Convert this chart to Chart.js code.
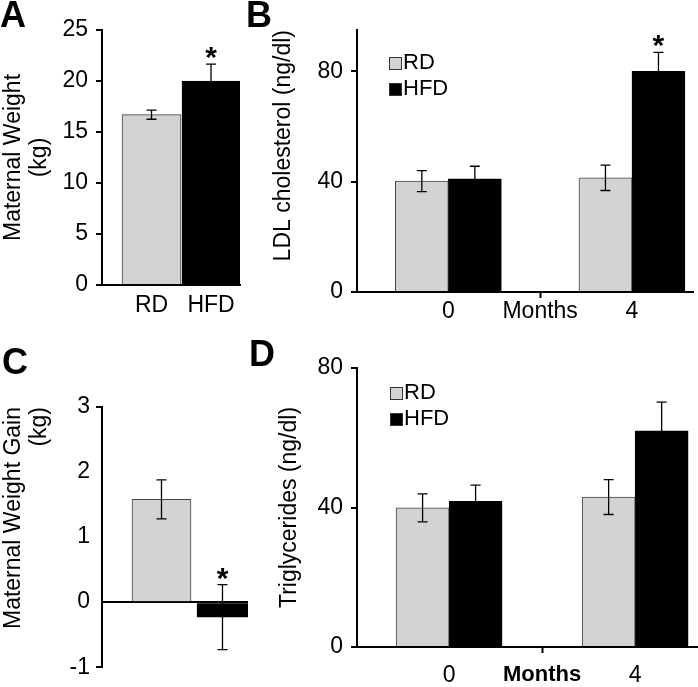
<!DOCTYPE html>
<html>
<head>
<meta charset="utf-8">
<script src="https://cdn.jsdelivr.net/npm/chart.js@4.4.1/dist/chart.umd.min.js"></script>
<style>
  body { margin: 0; background: #fff; }
  #fig { position: relative; width: 698px; height: 687px; overflow: hidden; font-family: "Liberation Sans", Arial, sans-serif; }
  .box { position: absolute; }
  .letter { position: absolute; font-weight: bold; font-size: 36px; line-height: 36px; color: #000; }
  .legend { position: absolute; font-size: 22px; line-height: 26px; color: #000; }
  .sw { display: inline-block; width: 11px; height: 11px; border: 1px solid #333; margin-right: 1px; vertical-align: -1px; }
</style>
</head>
<body>
<div id="fig">
  <div class="box" style="left:0;top:0"><canvas id="chartA" width="245" height="335"></canvas></div>
  <div class="box" style="left:240px;top:0"><canvas id="chartB" width="458" height="335"></canvas></div>
  <div class="box" style="left:0;top:340px"><canvas id="chartC" width="250" height="347"></canvas></div>
  <div class="box" style="left:240px;top:340px"><canvas id="chartD" width="458" height="347"></canvas></div>
  <div class="letter" style="left:0;top:-3px">A</div>
  <div class="letter" style="left:246px;top:-3px">B</div>
  <div class="letter" style="left:2px;top:344px">C</div>
  <div class="letter" style="left:249px;top:336px">D</div>
  <div class="legend" id="legendB" style="left:389px;top:49px"></div>
  <div class="legend" id="legendD" style="left:390px;top:379px"></div>
</div>
<script>
// 群
const groups = ['RD', 'HFD'];
const groupColors = ['#d3d3d3', '#000000'];
const groupBorders = ['#444444', '#000000'];

// A: 体重
const weight = [16.7, 20.0];
const weightErr = [0.45, 1.65];
const weightSig = [false, true];

// C: 体重増加
const gain = [1.58, -0.23];
const gainErr = [0.3, 0.5];
const gainSig = [false, true];

// B, D: 月
const months = [0, 4];
const monthTicks = [0, 2, 4];
const monthTickLabels = ['0', 'Months', '4'];

// B: LDL
const ldlRD = [40.2, 41.4];
const ldlRDErr = [3.8, 4.6];
const ldlHFD = [41.0, 80.0];
const ldlHFDErr = [4.6, 6.9];
const ldlHFDSig = [false, true];

// D: 中性脂肪
const tgRD = [39.9, 43.0];
const tgRDErr = [4.0, 5.0];
const tgHFD = [41.8, 62.0];
const tgHFDErr = [4.6, 8.2];

Chart.defaults.font.family = '"Liberation Sans", Arial, sans-serif';
Chart.defaults.color = '#000';

const clear = 'rgba(0,0,0,0)';

// エラーバーと有意差マーク
const errorBars = {
  id: 'errorBars',
  afterDatasetsDraw(chart) {
    const ctx = chart.ctx;
    const y = chart.scales.y;
    chart.data.datasets.forEach((ds, i) => {
      const meta = chart.getDatasetMeta(i);
      meta.data.forEach((bar, j) => {
        const v = ds.data[j].y;
        const e = ds.errors[j];
        const top = y.getPixelForValue(v + e);
        const bot = y.getPixelForValue(v - e);
        ctx.save();
        ctx.strokeStyle = '#000';
        ctx.lineWidth = 1.3;
        ctx.beginPath();
        ctx.moveTo(bar.x, top); ctx.lineTo(bar.x, bot);
        ctx.moveTo(bar.x - 5, top); ctx.lineTo(bar.x + 5, top);
        ctx.moveTo(bar.x - 5, bot); ctx.lineTo(bar.x + 5, bot);
        ctx.stroke();
        if (ds.sig && ds.sig[j]) {
          ctx.fillStyle = '#000';
          ctx.font = 'bold 30px "Liberation Sans", Arial, sans-serif';
          ctx.textAlign = 'center';
          ctx.textBaseline = 'alphabetic';
          ctx.fillText('*', bar.x, top + 3);
        }
        ctx.restore();
      });
    });
  }
};

function xAxis(p) {
  return {
    type: 'linear',
    min: p.min, max: p.max,
    offset: false,
    afterBuildTicks: s => { s.ticks = p.ticks.map(v => ({ value: v })); },
    afterFit: s => { s.height = p.height; },
    border: { display: p.border, color: '#000', width: 2 },
    grid: {
      drawOnChartArea: false, offset: false,
      drawTicks: p.tickMarks, tickLength: 6, tickWidth: 2,
      tickColor: c => (c.tick && c.tick.value === 2) ? '#000' : clear
    },
    ticks: {
      autoSkip: false, maxRotation: 0, padding: p.pad, color: '#000',
      font: p.font || { size: 23 },
      callback: (v, i) => p.labels[i]
    }
  };
}

function yAxis(p) {
  return {
    min: p.min, max: p.max,
    afterFit: s => { s.width = p.width; },
    border: { color: '#000', width: 2 },
    grid: {
      drawOnChartArea: !!p.zeroLine,
      color: c => (c.tick && c.tick.value === 0) ? '#000' : clear,
      lineWidth: 2, tickLength: 6, tickWidth: 2,
      tickColor: p.tickColor || '#000'
    },
    ticks: { stepSize: p.step, includeBounds: false, padding: p.pad, color: '#000', font: { size: 23 } },
    title: {
      display: true, text: p.title, color: '#000', align: p.align || 'center',
      font: { size: 23, lineHeight: 1.1 }, padding: { top: p.titlePad, bottom: 0 }
    }
  };
}

function groupSets(values, errs, sig, thickness) {
  return groups.map((g, i) => ({
    label: g,
    data: [{ x: i + 1, y: values[i] }],
    errors: [errs[i]],
    sig: [sig[i]],
    backgroundColor: groupColors[i],
    borderColor: groupBorders[i],
    borderWidth: 1,
    barThickness: thickness[i],
    grouped: false
  }));
}

function monthSets(series, errs, sigs) {
  return groups.map((g, i) => ({
    label: g,
    data: months.map((m, j) => ({ x: m, y: series[i][j] })),
    errors: errs[i],
    sig: sigs[i],
    backgroundColor: groupColors[i],
    borderColor: groupBorders[i],
    borderWidth: 1,
    barThickness: 53
  }));
}

function makeChart(id, datasets, padding, x, y) {
  return new Chart(document.getElementById(id), {
    type: 'bar',
    data: { datasets },
    options: {
      responsive: false,
      animation: false,
      layout: { padding },
      plugins: { legend: { display: false }, tooltip: { enabled: false } },
      scales: { x, y }
    },
    plugins: [errorBars]
  });
}

// A
makeChart('chartA',
  groupSets(weight, weightErr, weightSig, [59, 58]),
  { top: 30, right: 5, left: 0, bottom: 0 },
  xAxis({ min: 0.168, max: 2.487, ticks: [1, 2], labels: groups, height: 50, border: true, tickMarks: false, pad: 7 }),
  yAxis({ min: 0, max: 25, step: 5, width: 102, pad: 8, title: ['Maternal Weight', '(kg)'], titlePad: 1.5 })
);

// B
makeChart('chartB',
  monthSets([ldlRD, ldlHFD], [ldlRDErr, ldlHFDErr], [[false, false], ldlHFDSig]),
  { top: 30, right: 5, left: 0, bottom: 0 },
  xAxis({ min: -1.99, max: 5.33, ticks: monthTicks, labels: monthTickLabels, height: 43, border: true, tickMarks: true, pad: 0 }),
  yAxis({ min: 0, max: 95, step: 40, width: 117, pad: 8, title: 'LDL cholesterol (ng/dl)', titlePad: 31, align: 'end' })
);

// C
makeChart('chartC',
  groupSets(gain, gainErr, gainSig, [59, 51]),
  { top: 67, right: 2, left: 0, bottom: 0 },
  xAxis({ min: 0.025, max: 2.418, ticks: [1, 2], labels: groups, height: 12, border: false, tickMarks: false, pad: -21 }),
  yAxis({ min: -1, max: 3, step: 1, width: 102, pad: 6, zeroLine: true,
          tickColor: c => (c.tick && (c.tick.value === 3 || c.tick.value === -1)) ? '#000' : clear,
          title: ['Maternal Weight Gain', '(kg)'], titlePad: 1.5, align: 'end' })
);

// D
makeChart('chartD',
  monthSets([tgRD, tgHFD], [tgRDErr, tgHFDErr], [[false, false], [false, false]]),
  { top: 28, right: 1, left: 0, bottom: 0 },
  xAxis({ min: -1.98, max: 5.33, ticks: monthTicks, labels: monthTickLabels, height: 40, border: true, tickMarks: true, pad: 9,
          font: c => (c.tick && c.tick.value === 2) ? { size: 22, weight: 'bold' } : { size: 23 } }),
  yAxis({ min: 0, max: 80, step: 40, width: 117, pad: 8, title: 'Triglycerides (ng/dl)', titlePad: 37 })
);

// 凡例
['legendB', 'legendD'].forEach(id => {
  document.getElementById(id).innerHTML = groups.map((g, i) =>
    '<div><span class="sw" style="background:' + groupColors[i] + '"></span>' + g + '</div>'
  ).join('');
});
</script>
</body>
</html>
